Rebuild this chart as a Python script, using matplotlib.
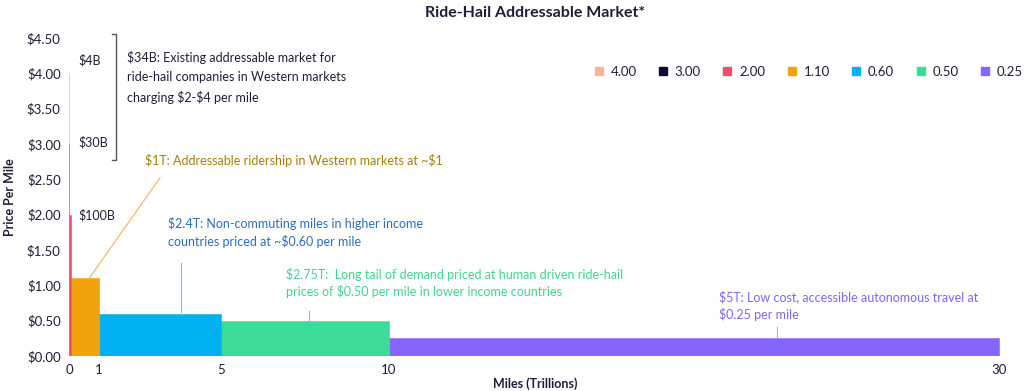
import matplotlib.pyplot as plt
from matplotlib.lines import Line2D
import numpy as np

plt.rcParams['font.family'] = ['Lato', 'DejaVu Sans']

# price per mile of each segment and its width in trillions of miles
prices = [4.00, 3.00, 2.00, 1.10, 0.60, 0.50, 0.25]
widths = [0.001, 0.01, 0.05, 0.909, 4.0, 5.5, 20.0]
labels = ["4.00", "3.00", "2.00", "1.10", "0.60", "0.50", "0.25"]
colors = ["#F9B1A0", "#0C0C2C", "#F24B6B", "#F0A30A", "#00B0F0", "#3DDB98", "#8466FF"]
tick_labels = ["0", "1", "5", "10", "30"]
y_ticks = [0, 0.5, 1.0, 1.5, 2.0, 2.5, 3.0, 3.5, 4.0, 4.5]

dark = "#1E1E3A"

lefts = np.concatenate([[0], np.cumsum(widths)[:-1]])
edges = np.cumsum(widths)

fig = plt.figure(figsize=(10.24, 3.91), dpi=100)
ax = fig.add_axes([69/1024, 1-356/391, (999-69)/1024*30.55/30.47, (356-38)/391])

# draw widest first so the thin slivers at 0 stay on top
for l, w, p, c in reversed(list(zip(lefts, widths, prices, colors))):
    ax.bar(l, p, width=w, align='edge', color=c, edgecolor=c, linewidth=0.4, alpha=1)

ax.set_xlim(0, 30.55)
ax.set_ylim(0, 4.5)
ax.set_xticks([0] + list(edges[3:]))
ax.set_xticklabels(tick_labels)
ax.set_yticks(y_ticks)
ax.set_yticklabels(["\\$%.2f" % v for v in y_ticks])
for s in ax.spines.values():
    s.set_visible(False)
ax.tick_params(length=0, labelsize=9.5, colors=dark, pad=6)
ax.set_xlabel("Miles (Trillions)", fontsize=9, fontweight='bold', color=dark, labelpad=1)
ax.set_ylabel("Price Per Mile", fontsize=9, fontweight='bold', color=dark, labelpad=8)
fig.suptitle("Ride-Hail Addressable Market*", x=535/1024, y=0.985, fontsize=11.5, fontweight='bold', color=dark)

# small value labels
fs = 9.0
ax.text(0.3, 4.19, "\\$4B", fontsize=fs, color=dark, va='center')
ax.text(0.3, 3.03, "\\$30B", fontsize=fs, color=dark, va='center')
ax.text(0.3, 1.99, "\\$100B", fontsize=fs, color=dark, va='center')

# bracket for the existing market
ax.plot([1.42, 1.54, 1.54, 1.42], [4.55, 4.55, 2.77, 2.77], color="#555566", lw=1, clip_on=False)
ax.text(1.9, 4.32, "\\$34B: Existing addressable market for\nride-hail companies in Western markets\ncharging \\$2-\\$4 per mile",
        fontsize=fs, color=dark, va='top', linespacing=1.75)

ax.text(2.49, 2.77, "\\$1T: Addressable ridership in Western markets at ~\\$1", fontsize=fs, color="#A87C05", va='center')
ax.plot([2.98, 0.62], [2.52, 1.075], color="#F5B060", lw=0.8)

ax.text(3.25, 1.75, "\\$2.4T: Non-commuting miles in higher income\ncountries priced at ~\\$0.60 per mile",
        fontsize=fs, color="#2F6DB5", va='center', linespacing=1.4)
ax.plot([3.67, 3.67], [1.32, 0.62], color="#9FB8D0", lw=0.8)

ax.text(7.11, 1.03, "\\$2.75T:  Long tail of demand priced at human driven ride-hail\nprices of \\$0.50 per mile in lower income countries",
        fontsize=fs, color="#3DD68C", va='center', linespacing=1.4)
ax.plot([7.87, 7.87], [0.64, 0.51], color="#9FB8C8", lw=0.8)

ax.text(21.28, 0.71, "\\$5T: Low cost, accessible autonomous travel at\n\\$0.25 per mile",
        fontsize=fs, color="#7B68EE", va='center', linespacing=1.4)
ax.plot([23.2, 23.2], [0.41, 0.27], color="#9FB8C8", lw=0.8)

handles = [Line2D([], [], marker='s', linestyle='', color=c, markersize=6) for c in colors]
leg = fig.legend(handles, labels, loc='center left', bbox_to_anchor=(592/1024, 1-72/391), ncol=7,
                 frameon=False, fontsize=9.5, handletextpad=0.4, columnspacing=1.5, handlelength=1.0,
                 borderaxespad=0, borderpad=0)
for t in leg.get_texts():
    t.set_color(dark)

fig.savefig("out.png", dpi=100)
